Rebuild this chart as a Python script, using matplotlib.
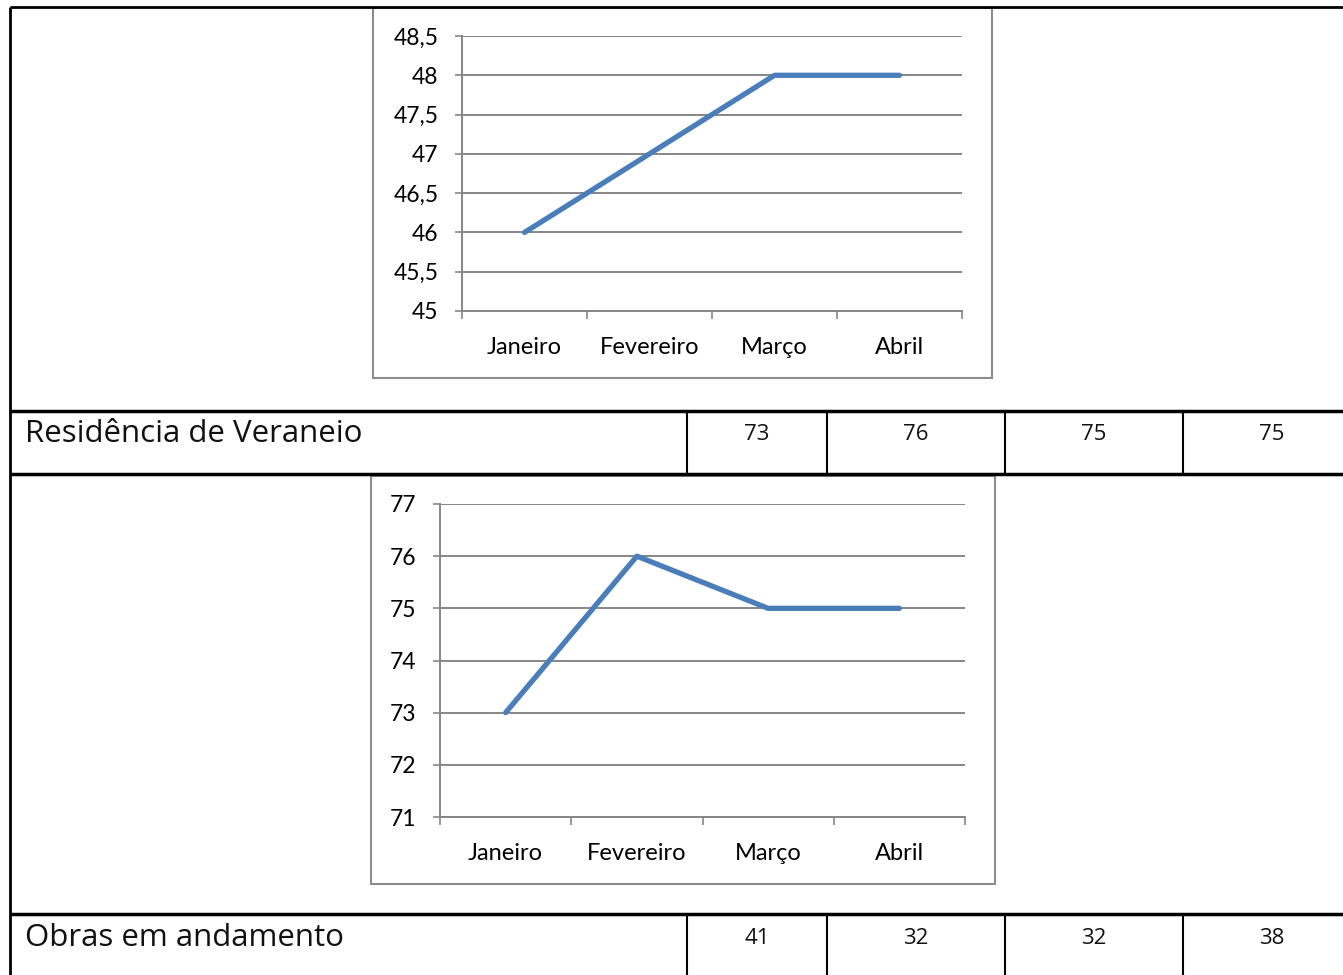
import matplotlib
matplotlib.use("Agg")
import matplotlib.pyplot as plt
from matplotlib.lines import Line2D
from matplotlib.patches import Rectangle
import numpy as np

# ---- data ----
months = ["Janeiro", "Fevereiro", "Março", "Abril"]
chart1_values = [46, 47, 48, 48]
chart1_yticks = [45, 45.5, 46, 46.5, 47, 47.5, 48, 48.5]
chart2_values = [73, 76, 75, 75]
chart2_yticks = [71, 72, 73, 74, 75, 76, 77]
row1_label = "Residência de Veraneio"
row1_values = ["73", "76", "75", "75"]
row2_label = "Obras em andamento"
row2_values = ["41", "32", "32", "38"]

W, H = 1343, 975
fig = plt.figure(figsize=(W / 100, H / 100), dpi=100)
fig.patch.set_facecolor("white")

def fx(x):
    return x / W

def fy(y):
    return 1 - y / H

def hline(x0, x1, y, lw):
    fig.add_artist(Line2D([fx(x0), fx(x1)], [fy(y), fy(y)], color="black", lw=lw,
                          transform=fig.transFigure, solid_capstyle="butt"))

def vline(x, y0, y1, lw):
    fig.add_artist(Line2D([fx(x), fx(x)], [fy(y0), fy(y1)], color="black", lw=lw,
                          transform=fig.transFigure, solid_capstyle="butt"))

def frame(x0, y0, x1, y1):
    fig.add_artist(Rectangle((fx(x0), fy(y1)), fx(x1) - fx(x0), fy(y0) - fy(y1),
                             transform=fig.transFigure, fill=False,
                             edgecolor="#8c8c8c", lw=1.5))

LINE_COLOR = "#4a7ebb"
GRID_COLOR = "#868686"
TICK_FONT = ["Lato", "DejaVu Sans"]
ROW_FONT = ["Open Sans", "DejaVu Sans"]

def chart(left, right, top, bottom, values, yticks, fmt):
    ax = fig.add_axes([fx(left), fy(bottom), fx(right) - fx(left), fy(top) - fy(bottom)])
    x = np.arange(len(months))
    ax.plot(x, values, color=LINE_COLOR, lw=3.8, solid_capstyle="round", zorder=3)
    ax.set_xlim(-0.5, len(months) - 0.5)
    ax.set_ylim(yticks[0], yticks[-1])
    ax.set_yticks(yticks)
    ax.set_yticklabels([fmt(v) for v in yticks], fontsize=16.5, family=TICK_FONT)
    ax.set_xticks(np.arange(len(months) + 1) - 0.5)
    ax.set_xticklabels([])
    ax.set_xticks(x, minor=True)
    ax.set_xticklabels(months, minor=True, fontsize=17, family=TICK_FONT)
    ax.tick_params(axis="x", which="minor", length=0, pad=19)
    ax.tick_params(axis="x", which="major", direction="out", length=6, width=1.2, color=GRID_COLOR)
    ax.tick_params(axis="y", direction="out", length=5, width=1.2, color=GRID_COLOR, pad=12)
    ax.grid(axis="y", color=GRID_COLOR, lw=1.4)
    ax.set_axisbelow(True)
    for s in ["top", "right"]:
        ax.spines[s].set_visible(False)
    for s in ["left", "bottom"]:
        ax.spines[s].set_color(GRID_COLOR)
        ax.spines[s].set_linewidth(1.4)
    ax.patch.set_alpha(0)
    return ax

def comma(v):
    s = ("%g" % v)
    return s.replace(".", ",")

# ---- table borders ----
vline(10, 7, 975, 2)
hline(10, 1343, 7, 2)
hline(10, 1343, 411, 2.5)
hline(10, 1343, 474, 2.5)
hline(10, 1343, 914, 2.5)
for xv in [687, 827, 1005, 1183]:
    vline(xv, 411, 474, 1.5)
    vline(xv, 914, 975, 1.5)

# ---- chart frames ----
frame(373, 8, 992, 378)
frame(371, 476, 995, 884)

chart(462, 962, 36, 311, chart1_values, chart1_yticks, comma)
chart(440, 965, 504, 817, chart2_values, chart2_yticks, comma)

# ---- row texts ----
cell_centers = [757, 916, 1094, 1272]
fig.text(fx(25), fy(442), row1_label, fontsize=22.5, family=ROW_FONT,
         va="baseline", ha="left", color="#111111")
for cx, v in zip(cell_centers, row1_values):
    fig.text(fx(cx), fy(440), v, fontsize=16, family=ROW_FONT,
             va="baseline", ha="center", color="#111111")
fig.text(fx(25), fy(946), row2_label, fontsize=22.5, family=ROW_FONT,
         va="baseline", ha="left", color="#111111")
for cx, v in zip(cell_centers, row2_values):
    fig.text(fx(cx), fy(944), v, fontsize=16, family=ROW_FONT,
             va="baseline", ha="center", color="#111111")

fig.savefig("out.png", dpi=100, facecolor="white")
